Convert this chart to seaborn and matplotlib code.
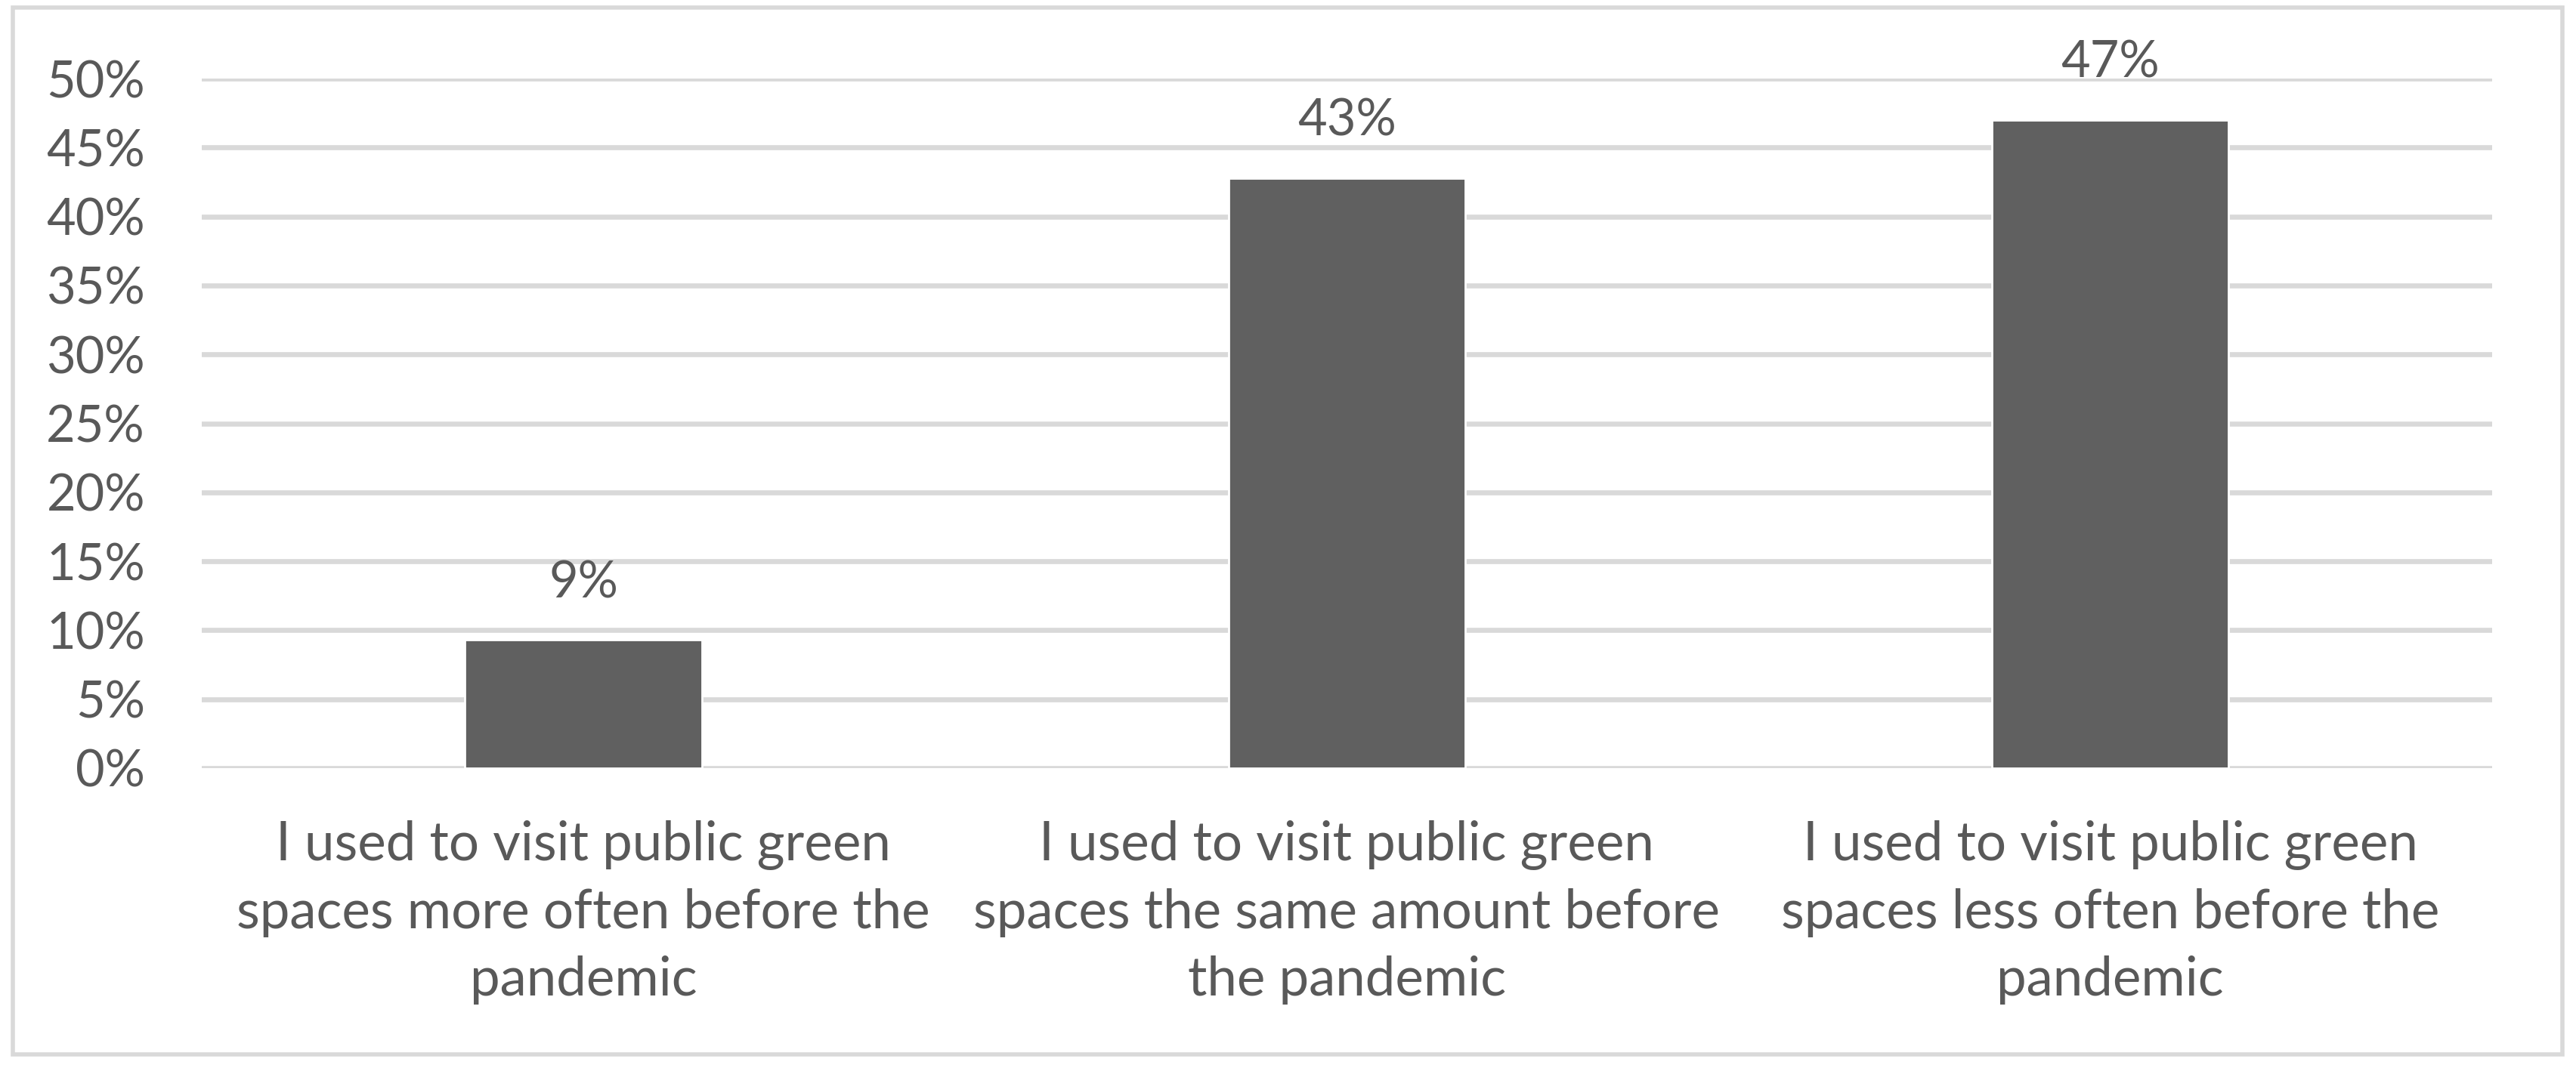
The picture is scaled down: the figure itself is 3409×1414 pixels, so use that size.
import matplotlib
matplotlib.use('Agg')
import matplotlib.pyplot as plt
import seaborn as sns
from matplotlib.patches import Rectangle
from matplotlib.ticker import PercentFormatter

# data
categories = [
    'I used to visit public green\nspaces more often before the\npandemic',
    'I used to visit public green\nspaces the same amount before\nthe pandemic',
    'I used to visit public green\nspaces less often before the\npandemic',
]
shares = [0.093, 0.428, 0.470]
share_labels = ['9%', '43%', '47%']
y_ticks = [0.0, 0.05, 0.10, 0.15, 0.20, 0.25, 0.30, 0.35, 0.40, 0.45, 0.50]

sns.set_theme(style='white')
plt.rcParams['font.family'] = ['Lato', 'DejaVu Sans']

text_grey = '#595959'
bar_grey = '#606060'
grid_grey = '#d9d9d9'

fig = plt.figure(figsize=(17.045, 7.07), dpi=200)
ax = fig.add_axes([0.0783, 0.2808, 0.8891, 0.6456])

sns.barplot(x=categories, y=shares, color=bar_grey, saturation=1, width=0.31, ax=ax, zorder=3)

ax.set_ylim(0, 0.5)
ax.set_yticks(y_ticks)
ax.yaxis.set_major_formatter(PercentFormatter(1.0, decimals=0))
ax.grid(axis='y', color=grid_grey, linewidth=2.4, zorder=0)
ax.set_axisbelow(True)
for s in ax.spines.values():
    s.set_visible(False)

ax.tick_params(axis='y', length=0, pad=27, labelsize=24, labelcolor=text_grey)
ax.tick_params(axis='x', length=0, pad=25, labelsize=25.5, labelcolor=text_grey)
for lab in ax.get_xticklabels():
    lab.set_linespacing(1.45)

# value labels above bars
for i, (v, t) in enumerate(zip(shares, share_labels)):
    ax.annotate(t, (i, v), xytext=(0, 27), textcoords='offset points',
                ha='center', va='center', fontsize=24, color=text_grey,
                annotation_clip=False)

# light border around the whole chart
fig.patches.append(Rectangle((0.005, 0.0127), 0.9897, 0.9802, transform=fig.transFigure,
                             fill=False, edgecolor=grid_grey, linewidth=2.0))

fig.savefig('out.png', dpi=200, facecolor='white')
